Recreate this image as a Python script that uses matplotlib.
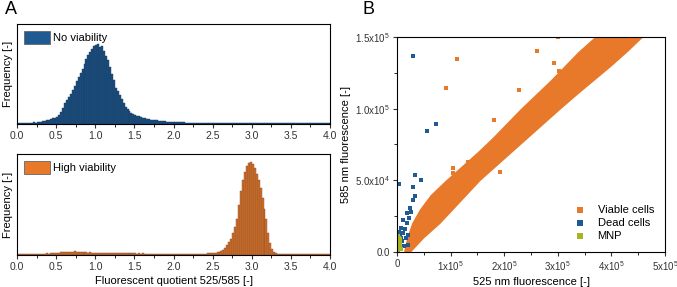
import matplotlib
matplotlib.use("Agg")
import matplotlib.pyplot as plt
import numpy as np

plt.rcParams['font.family'] = ['Liberation Sans', 'DejaVu Sans']
plt.rcParams['mathtext.default'] = 'regular'

# ---- panel A: histograms of fluorescent quotient 525/585 (relative frequency) ----
bin_width = 0.025
no_viab = [
    0.010, 0.012, 0.011, 0.013, 0.012, 0.014, 0.013, 0.015, 0.016, 0.015,
    0.018, 0.020, 0.024, 0.028, 0.032, 0.038, 0.045, 0.052, 0.058, 0.065,
    0.070, 0.090, 0.120, 0.160, 0.210, 0.240, 0.270, 0.300, 0.340, 0.380,
    0.430, 0.470, 0.510, 0.550, 0.600, 0.650, 0.690, 0.720, 0.750, 0.780,
    0.790, 0.800, 0.770, 0.780, 0.730, 0.680, 0.640, 0.570, 0.500, 0.440,
    0.360, 0.330, 0.290, 0.250, 0.210, 0.170, 0.150, 0.130, 0.110, 0.100,
    0.090, 0.085, 0.080, 0.070, 0.065, 0.060, 0.055, 0.050, 0.045, 0.040,
    0.040, 0.036, 0.034, 0.030, 0.028, 0.026, 0.024, 0.022, 0.021, 0.020,
    0.019, 0.018, 0.017, 0.017, 0.016, 0.016, 0.015, 0.015, 0.014, 0.014,
    0.014, 0.013, 0.013, 0.013, 0.012, 0.012, 0.012, 0.012, 0.011, 0.011,
    0.011, 0.011, 0.011, 0.010, 0.011, 0.010, 0.010, 0.010, 0.010, 0.010,
    0.010, 0.009, 0.010, 0.009, 0.010, 0.009, 0.009, 0.009, 0.009, 0.009,
    0.009, 0.009, 0.008, 0.009, 0.008, 0.009, 0.008, 0.008, 0.009, 0.008,
    0.008, 0.008, 0.008, 0.008, 0.008, 0.008, 0.008, 0.007, 0.008, 0.008,
    0.007, 0.008, 0.007, 0.008, 0.007, 0.007, 0.008, 0.007, 0.007, 0.007,
    0.007, 0.007, 0.007, 0.007, 0.007, 0.006, 0.007, 0.007, 0.006, 0.007,
]
high_viab = [
    0.008, 0.009, 0.008, 0.010, 0.009, 0.010, 0.011, 0.010, 0.012, 0.011,
    0.012, 0.013, 0.012, 0.014, 0.013, 0.015, 0.014, 0.016, 0.018, 0.020,
    0.022, 0.024, 0.026, 0.028, 0.030, 0.032, 0.031, 0.034, 0.033, 0.035,
    0.032, 0.030, 0.031, 0.028, 0.026, 0.027, 0.024, 0.025, 0.022, 0.023,
    0.021, 0.020, 0.022, 0.019, 0.018, 0.020, 0.017, 0.019, 0.018, 0.016,
    0.018, 0.017, 0.019, 0.016, 0.017, 0.015, 0.016, 0.017, 0.015, 0.016,
    0.015, 0.014, 0.016, 0.013, 0.015, 0.014, 0.013, 0.014, 0.012, 0.013,
    0.012, 0.013, 0.011, 0.012, 0.011, 0.012, 0.010, 0.011, 0.010, 0.011,
    0.010, 0.009, 0.010, 0.009, 0.010, 0.009, 0.010, 0.011, 0.010, 0.011,
    0.011, 0.012, 0.011, 0.012, 0.012, 0.013, 0.014, 0.015, 0.016, 0.018,
    0.020, 0.022, 0.025, 0.028, 0.035, 0.050, 0.070, 0.100, 0.130, 0.160,
    0.220, 0.280, 0.360, 0.500, 0.630, 0.740, 0.820, 0.880, 0.910, 0.920,
    0.900, 0.860, 0.800, 0.740, 0.660, 0.560, 0.460, 0.360, 0.220, 0.120,
    0.060, 0.030, 0.015, 0.012, 0.011, 0.010, 0.010, 0.009, 0.009, 0.009,
    0.008, 0.008, 0.008, 0.008, 0.007, 0.007, 0.007, 0.007, 0.007, 0.006,
    0.006, 0.006, 0.006, 0.006, 0.006, 0.005, 0.005, 0.005, 0.005, 0.005,
]

# ---- panel B: scatter, values in units of 1e5 ----
# dense band of viable cells, edges read at fixed 585 nm levels
band_y = [0.0, 0.1, 0.2, 0.3, 0.4, 0.5, 0.6, 0.7, 0.8, 0.9, 1.0, 1.1, 1.2, 1.3, 1.4, 1.5, 1.52]
band_left = [0.12, 0.18, 0.27, 0.42, 0.62, 0.9, 1.2, 1.5, 1.78, 2.04, 2.3, 2.58, 2.86, 3.12, 3.38, 3.68, 3.72]
band_right = [0.25, 0.5, 0.8, 1.05, 1.3, 1.55, 1.85, 2.15, 2.45, 2.75, 3.05, 3.36, 3.68, 4.0, 4.3, 4.58, 4.62]
viable_x = [1.125, 0.914, 2.61, 2.92, 3.02, 2.27, 1.81, 3.0, 1.04, 1.04, 1.32, 1.92, 1.86]
viable_y = [1.345, 1.147, 1.405, 1.32, 1.265, 1.128, 0.919, 1.5, 0.584, 0.55, 0.63, 0.56, 0.71]
dead_x = [0.04, 0.29, 0.34, 0.29, 0.24, 0.19, 0.11, 0.07, 0.04, 0.45, 0.33, 0.21, 0.02, 0.05,
          0.08, 0.12, 0.15, 0.18, 0.22, 0.26, 0.14, 0.1, 0.16, 0.2, 0.06, 0.73, 0.56, 0.29]
dead_y = [0.475, 0.45, 0.39, 0.365, 0.305, 0.27, 0.22, 0.17, 0.14, 0.50, 0.54, 0.05, 0.03, 0.06,
          0.1, 0.13, 0.16, 0.2, 0.24, 0.28, 0.04, 0.08, 0.1, 0.12, 0.12, 0.893, 0.846, 1.368]
mnp_x = [0.01, 0.02, 0.03, 0.04, 0.05, 0.02, 0.04, 0.06, 0.03, 0.05, 0.01, 0.07, 0.02]
mnp_y = [0.01, 0.03, 0.05, 0.07, 0.09, 0.08, 0.02, 0.04, 0.1, 0.06, 0.06, 0.02, 0.11]

blue = '#1f5a93'
orange = '#e8792b'
olive = '#a9b424'

fig = plt.figure(figsize=(6.77, 2.87), dpi=100)
ax1 = fig.add_axes([0.0251, 0.5679, 0.4624, 0.3485])
ax2 = fig.add_axes([0.0251, 0.1115, 0.4624, 0.3519])
ax3 = fig.add_axes([0.5864, 0.1220, 0.3959, 0.7491])

edges = np.arange(len(no_viab)) * bin_width
for ax, vals, fill, edge, lab, col in [(ax1, no_viab, '#1d4e80', '#163d63', 'No viability', blue),
                                       (ax2, high_viab, '#d0702e', '#8c4c24', 'High viability', orange)]:
    ax.bar(edges, vals, width=bin_width, align='edge', color=fill,
           edgecolor=edge, linewidth=0.3)
    ax.bar([0], [0], color=col, edgecolor='#666666', linewidth=0.6, label=lab)
    ax.set_xlim(0, 4)
    ax.set_ylim(0, 1)
    ax.set_yticks([])
    ax.set_xticks(np.arange(0, 4.01, 0.5))
    ax.set_xticklabels([f'{v:.1f}' for v in np.arange(0, 4.01, 0.5)])
    ax.set_xticks(np.arange(0.25, 4, 0.5), minor=True)
    ax.tick_params(axis='x', direction='out', length=3, width=0.8, labelsize=7.5, pad=2, colors='#333333')
    ax.tick_params(axis='x', which='minor', length=2, width=0.6)
    ax.set_ylabel('Frequency [-]', fontsize=8, labelpad=3)
    ax.legend(loc='upper left', frameon=False, fontsize=8, handlelength=2.3,
              handleheight=1.4, handletextpad=0.3, borderaxespad=0.25)
    for s in ax.spines.values():
        s.set_linewidth(0.8)
ax2.set_xlabel('Fluorescent quotient 525/585 [-]', fontsize=8, labelpad=3)

# panel B
scale = 1e5
ax3.fill_betweenx(np.array(band_y) * scale, np.array(band_left) * scale,
                  np.array(band_right) * scale, color=orange, linewidth=0)
ax3.scatter(np.array(viable_x) * scale, np.array(viable_y) * scale, marker='s', s=9,
            color=orange, linewidths=0, label='Viable cells')
ax3.scatter(np.array(dead_x) * scale, np.array(dead_y) * scale, marker='s', s=9,
            color=blue, linewidths=0, label='Dead cells')
ax3.scatter(np.array(mnp_x) * scale, np.array(mnp_y) * scale, marker='s', s=9,
            color=olive, linewidths=0, label='MNP')
ax3.set_xlim(0, 5e5)
ax3.set_ylim(0, 1.5e5)
ax3.set_xticks([0, 1e5, 2e5, 3e5, 4e5, 5e5])
ax3.set_xticklabels(['0', '1x10$^5$', '2x10$^5$', '3x10$^5$', '4x10$^5$', '5x10$^5$'])
ax3.set_xticks(np.arange(0.5e5, 5e5, 1e5), minor=True)
ax3.set_yticks([0, 0.5e5, 1e5, 1.5e5])
ax3.set_yticklabels(['0.0', '5.0x10$^4$', '1.0x10$^5$', '1.5x10$^5$'])
ax3.set_yticks([0.25e5, 0.75e5, 1.25e5], minor=True)
ax3.tick_params(direction='out', length=3, width=0.8, labelsize=7, pad=2, colors='#333333')
ax3.tick_params(which='minor', length=2, width=0.6)
ax3.set_xlabel('525 nm fluorescence [-]', fontsize=8, labelpad=3)
ax3.set_ylabel('585 nm fluorescence [-]', fontsize=8, labelpad=3)
for s in ax3.spines.values():
    s.set_linewidth(0.8)
ax3.legend(loc='lower right', frameon=False, fontsize=8, markerscale=1.3,
           handletextpad=0.6, labelspacing=0.25, borderaxespad=0.6)

fig.text(0.008, 0.995, 'A', fontsize=13, va='top', ha='left')
fig.text(0.535, 0.995, 'B', fontsize=13, va='top', ha='left')

fig.savefig('out.png', dpi=100)
